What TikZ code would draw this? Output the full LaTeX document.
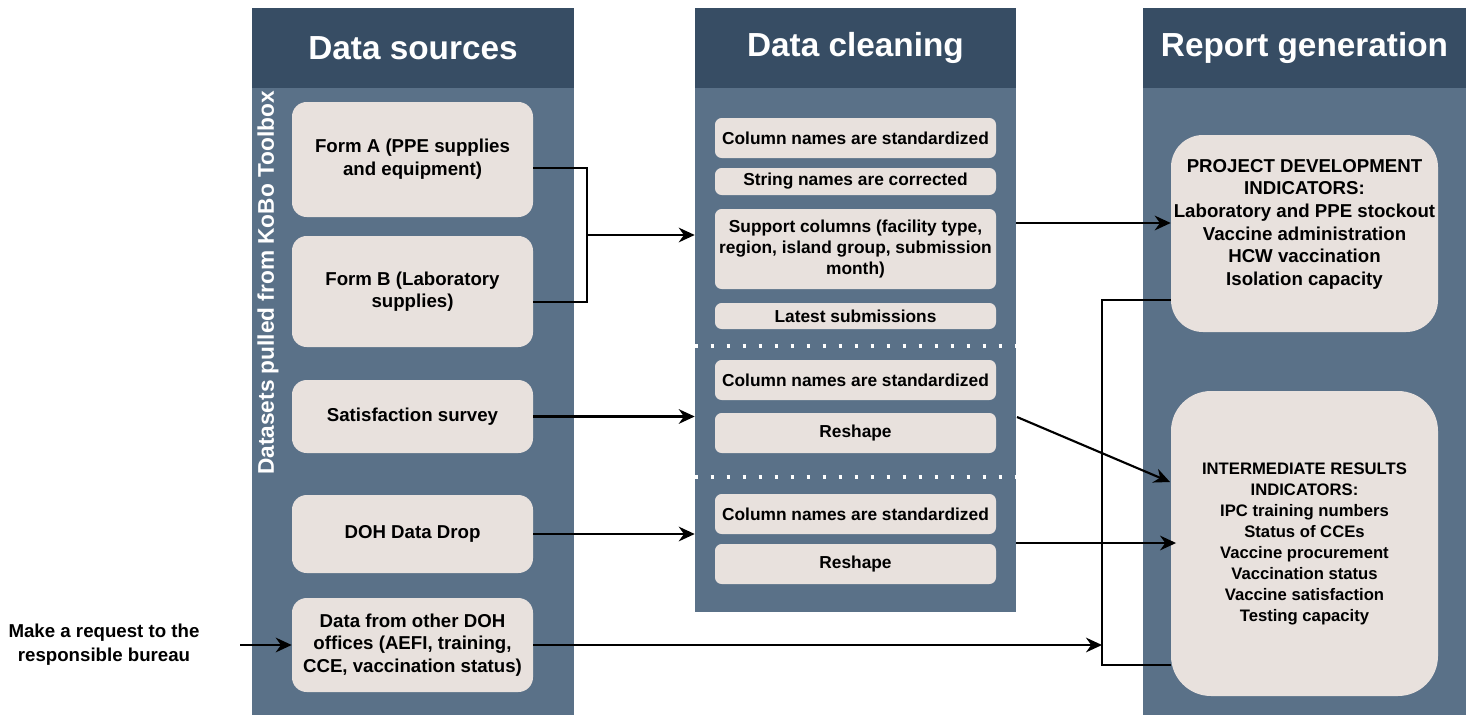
\documentclass[tikz,border=0pt]{standalone}
\usepackage{fontspec}
\setmainfont{Liberation Sans}
\usetikzlibrary{fit,arrows.meta,scopes}
\definecolor{headblue}{HTML}{374D64}
\definecolor{bodyblue}{HTML}{5A7188}
\definecolor{boxgrey}{HTML}{E8E1DD}
\tikzset{
  >={Stealth[length=12pt,width=11pt]},
  col/.style={fill=bodyblue, inner sep=0pt, fit={#1}},
  hd/.style={fill=headblue, inner sep=0pt, text=white, minimum height=80*0.75pt, minimum width=#1*0.75pt, font=\fontsize{25}{30}\selectfont\bfseries},
  bx/.style={fill=boxgrey, rounded corners=11pt, inner sep=0pt, align=center, minimum width=241*0.75pt, minimum height=#1*0.75pt, font=\fontsize{14}{17}\selectfont\bfseries},
  cb/.style={bx=#1, minimum width=281*0.75pt, rounded corners=5pt, font=\fontsize{13}{15.75}\selectfont\bfseries},
  rb/.style={bx=#1, minimum width=267*0.75pt, rounded corners=24pt},
  dots/.style={draw=white, line width=2.3pt, dash pattern=on 2.3pt off 9.7pt}
}
\begin{document}
\begin{tikzpicture}[x=0.75pt, y=-0.75pt, line/.style={draw, line width=1.6pt}]
  \useasboundingbox (0,0) rectangle (1472,715);
  % the three columns
  \node[col={(252,8)(574,715)}] (src) {};
  \node[col={(695,8)(1016,612)}] (cl) {};
  \node[col={(1143,8)(1466,715)}] (rep) {};
  \node[hd=322] (srch) at (413,48) {Data sources};
  \node[hd=321] (clh) at (855.5,48) {Data cleaning};
  \node[hd=323] (reph) at (1304.5,48) {Report generation};
  \node[rotate=90, text=white, font=\fontsize{17}{20}\selectfont\bfseries] (kobo) at (268,283) {Datasets pulled from KoBo Toolbox};

  % data sources
  \node[bx=115] (fa) at (412.5,159.5) {Form A (PPE supplies\\and equipment)};
  \node[bx=111] (fb) at (412.5,291.5) {Form B (Laboratory\\supplies)};
  \node[bx=73] (sat) at (412.5,416.5) {Satisfaction survey};
  \node[bx=78] (drop) at (412.5,534) {DOH Data Drop};
  \node[bx=94] (oth) at (412.5,645) {Data from other DOH\\offices (AEFI, training,\\CCE, vaccination status)};
  \node[align=center, font=\fontsize{14}{18}\selectfont\bfseries] (ask) at (104,645) {Make a request to the\\responsible bureau};

  % data cleaning
  \node[cb=40] (std1) at (855.5,138) {Column names are standardized};
  \node[cb=27] (str) at (855.5,181.5) {String names are corrected};
  \node[cb=80] (sup) at (855.5,249) {Support columns (facility type,\\region, island group, submission\\month)};
  \node[cb=26] (lat) at (855.5,316) {Latest submissions};
  \node[cb=40] (std2) at (855.5,380) {Column names are standardized};
  \node[cb=40] (resh1) at (855.5,433) {Reshape};
  \node[cb=40] (std3) at (855.5,514) {Column names are standardized};
  \node[cb=40] (resh2) at (855.5,564) {Reshape};
  \draw[dots] (cl.west |- 0,346) -- (cl.east |- 0,346);
  \draw[dots] (cl.west |- 0,477) -- (cl.east |- 0,477);

  % report generation
  \node[rb=197, text depth=17pt] (pd) at (1304.5,233.5) {PROJECT DEVELOPMENT\\INDICATORS:\\Laboratory and PPE stockout\\Vaccine administration\\HCW vaccination\\Isolation capacity};
  \node[rb=305, rounded corners=30pt, font=\fontsize{12.5}{15.75}\selectfont\bfseries] (ir) at (1304.5,543.5) {INTERMEDIATE RESULTS\\INDICATORS:\\IPC training numbers\\Status of CCEs\\Vaccine procurement\\Vaccination status\\Vaccine satisfaction\\Testing capacity};

  % connectors
  \coordinate (brk) at (587,235);
  \coordinate (bus) at (1102,645);
  \coordinate (up) at (1102,300);
  \coordinate (dn) at (1102,665);
  \coordinate (o1) at (1016,223);
  \coordinate (o2) at (1017,417);
  \coordinate (o3) at (1016,543);
  \coordinate (i2) at (1170,482);
  \coordinate (a0) at (240,645);
  \path[line] ([yshift=-6.4pt]fa.east) -| (brk) |- ([yshift=-7.9pt]fb.east);
  {[->]
  \path[line] (brk) -- (brk -| cl.west);
  \path[line] (sat.east) -- (sat.east -| cl.west);
  \path[line] (drop.east) -- (drop.east -| cl.west);
  \path[line] (oth.east) -- (oth.east -| bus);
  \path[line] (a0) -- (oth.west);
  \path[line] (o1) -- (o1 -| pd.west);
  \path[line] (o2) -- (i2);
  \path[line] (o3) -- ([xshift=4pt]o3 -| ir.west);
  }
  \path[line] (up -| pd.west) -- (up) -- (dn) -- (dn -| ir.west);
\end{tikzpicture}
\end{document}
